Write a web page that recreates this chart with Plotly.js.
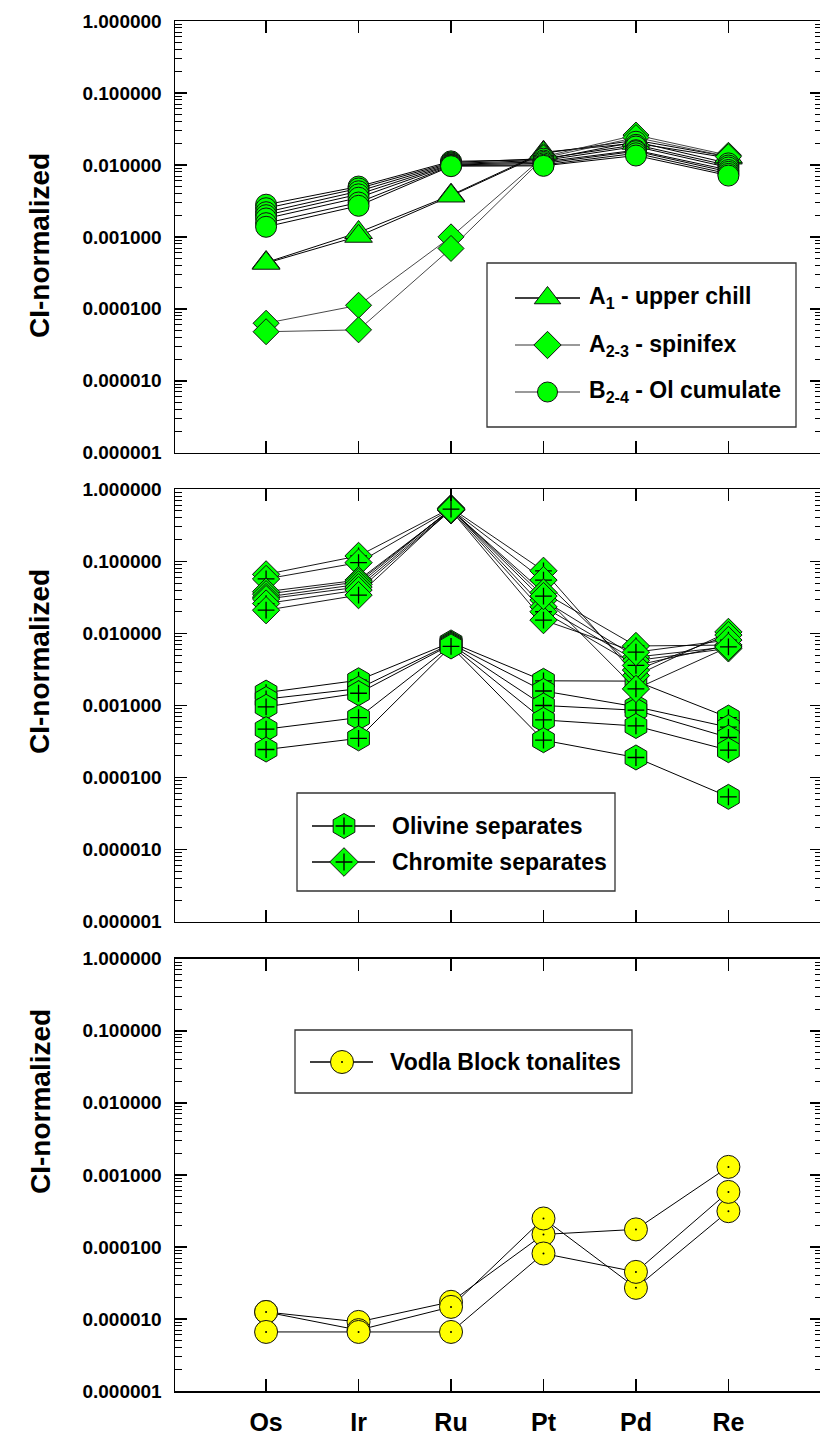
<!DOCTYPE html>
<html>
<head>
<meta charset="utf-8">
<script src="https://cdn.plot.ly/plotly-3.0.1.min.js"></script>
<style>
html,body{margin:0;padding:0;overflow:hidden;background:#fff;}
#chart{width:830px;height:1441px;}
</style>
</head>
<body>
<div id="chart"></div>
<script>
// ---------------- DATA ----------------
const elements = ['Os','Ir','Ru','Pt','Pd','Re'];
const yTickFormat = '.6f';

// Panel 1
const upperChillA1 = [
  [4.4e-4, 1.15e-3, 3.8e-3, 0.0150, 0.020, 0.0125],
  [4.3e-4, 1.02e-3, 3.7e-3, 0.0145, 0.022, 0.0130]
];
const spinifexA23 = [
  [6.3e-5, 1.12e-4, 1.0e-3, 0.0130, 0.026, 0.0136],
  [4.8e-5, 5.1e-5, 6.9e-4, 0.0125, 0.024, 0.0130]
];
const olCumulateB24 = [
  [2.8e-3, 5.0e-3, 0.0112, 0.0118, 0.021, 0.0105],
  [2.5e-3, 4.7e-3, 0.0108, 0.0122, 0.019, 0.0098],
  [2.2e-3, 4.3e-3, 0.0105, 0.0115, 0.018, 0.0092],
  [2.0e-3, 3.9e-3, 0.0102, 0.0110, 0.016, 0.0085],
  [1.8e-3, 3.5e-3, 0.0100, 0.0105, 0.0155, 0.0080],
  [1.55e-3, 3.0e-3, 0.0098, 0.0100, 0.0145, 0.0075],
  [1.38e-3, 2.7e-3, 0.0096, 0.0097, 0.0135, 0.0071]
];
// Panel 2
const olivineSeparates = [
  [1.51e-3, 2.24e-3, 7.5e-3, 2.2e-3, 2.18e-3, 6.8e-4],
  [1.23e-3, 1.71e-3, 7.2e-3, 1.59e-3, 9.6e-4, 5.0e-4],
  [9.6e-4, 1.48e-3, 7.0e-3, 1.0e-3, 8.6e-4, 3.6e-4],
  [4.7e-4, 6.8e-4, 6.8e-3, 6.3e-4, 5.2e-4, 2.4e-4],
  [2.45e-4, 3.5e-4, 6.6e-3, 3.3e-4, 1.9e-4, 5.4e-5]
];
const chromiteSeparates = [
  [0.066, 0.119, 0.55, 0.074, 0.0026, 0.0105],
  [0.057, 0.096, 0.53, 0.055, 0.0031, 0.0095],
  [0.038, 0.055, 0.52, 0.037, 0.0067, 0.0069],
  [0.035, 0.052, 0.53, 0.029, 0.0047, 0.0065],
  [0.032, 0.048, 0.54, 0.0234, 0.0042, 0.0062],
  [0.030, 0.044, 0.52, 0.020, 0.0036, 0.0069],
  [0.026, 0.040, 0.51, 0.0153, 0.0055, 0.0081],
  [0.021, 0.034, 0.53, 0.033, 0.0017, 0.0065]
];
// Panel 3
const vodlaTonalites = [
  [1.25e-5, 9.1e-6, 1.73e-5, 1.49e-4, 1.75e-4, 1.29e-3],
  [1.25e-5, 7.0e-6, 1.47e-5, 2.48e-4, 2.7e-5, 3.13e-4],
  [6.6e-6, 6.6e-6, 6.6e-6, 8.1e-5, 4.5e-5, 5.8e-4]
];

// ---------------- LAYOUT GEOMETRY ----------------
const W = 830, H = 1441, ML = 175, MR = 8, MT = 21, MB = 50;
const PW = W - ML - MR, PH = H - MT - MB;
const fx = px => (px - ML) / PW;
const fy = py => (H - MB - py) / PH;

const GREEN = '#00ff00', YELLOW = '#ffff00';
const FONT = 'Liberation Sans, Arial, Helvetica, sans-serif';

const traces = [];
function addLines(rows, xa, ya, color, width) {
  rows.forEach(r => traces.push({
    type: 'scatter', mode: 'lines', x: elements, y: r, xaxis: xa, yaxis: ya,
    line: {color: color, width: width}, hoverinfo: 'skip', showlegend: false
  }));
}
function addMarkers(rows, xa, ya, symbol, size, fill, extra) {
  rows.forEach(r => {
    traces.push({
      type: 'scatter', mode: 'markers', x: elements, y: r, xaxis: xa, yaxis: ya,
      marker: {symbol: symbol, size: size, color: fill, line: {color: '#111', width: 1}},
      hoverinfo: 'skip', showlegend: false
    });
    if (extra === 'cross') {
      traces.push({
        type: 'scatter', mode: 'markers', x: elements, y: r, xaxis: xa, yaxis: ya,
        marker: {symbol: 'cross-thin', size: 12, color: '#000', line: {color: '#000', width: 1.3}},
        hoverinfo: 'skip', showlegend: false
      });
    } else if (extra === 'dot') {
      traces.push({
        type: 'scatter', mode: 'markers', x: elements, y: r, xaxis: xa, yaxis: ya,
        marker: {symbol: 'circle', size: 2, color: '#000'},
        hoverinfo: 'skip', showlegend: false
      });
    }
  });
}

// Panel 1
addLines(upperChillA1, 'x', 'y', '#000', 1);
addLines(spinifexA23, 'x', 'y', '#333', 0.9);
addLines(olCumulateB24, 'x', 'y', '#000', 1);
addMarkers(upperChillA1, 'x', 'y', 'triangle-up', 24, GREEN);
addMarkers(spinifexA23, 'x', 'y', 'diamond', 20, GREEN);
addMarkers(olCumulateB24, 'x', 'y', 'circle', 21, GREEN);
// Panel 2
addLines(olivineSeparates, 'x2', 'y2', '#000', 1);
addLines(chromiteSeparates, 'x2', 'y2', '#000', 0.9);
addMarkers(olivineSeparates, 'x2', 'y2', 'hexagon', 25, GREEN, 'cross');
addMarkers(chromiteSeparates, 'x2', 'y2', 'diamond', 21, GREEN, 'cross');
// Panel 3
addLines(vodlaTonalites, 'x3', 'y3', '#000', 1);
addMarkers(vodlaTonalites, 'x3', 'y3', 'circle', 23, YELLOW, 'dot');

// ---------------- LEGENDS (drawn manually) ----------------
const legendBoxes = [
  {box: [487, 263, 796, 427], lineX: [515, 580], markX: 547.5, textX: 587,
   rows: [
     {y: 298, sym: 'triangle-up', size: 23, fill: GREEN, lc: '#000', text: 'A<sub>1</sub> - upper chill'},
     {y: 345, sym: 'diamond', size: 21, fill: GREEN, lc: '#777', text: 'A<sub>2-3</sub> - spinifex'},
     {y: 392, sym: 'circle', size: 20, fill: GREEN, lc: '#777', text: 'B<sub>2-4</sub> - Ol cumulate'}
   ]},
  {box: [297, 793, 615, 891], lineX: [312, 375], markX: 344, textX: 390,
   rows: [
     {y: 826, sym: 'hexagon', size: 25, fill: GREEN, lc: '#000', text: 'Olivine separates', extra: 'cross'},
     {y: 862, sym: 'diamond', size: 22, fill: GREEN, lc: '#000', text: 'Chromite separates', extra: 'cross'}
   ]},
  {box: [295, 1030, 632, 1093], lineX: [310, 373], markX: 342, textX: 388,
   rows: [
     {y: 1062, sym: 'circle', size: 23, fill: YELLOW, lc: '#000', text: 'Vodla Block tonalites', extra: 'dot'}
   ]}
];

const shapes = [];
const annotations = [];
legendBoxes.forEach(lg => {
  shapes.push({type: 'rect', xref: 'paper', yref: 'paper', layer: 'below',
    x0: fx(lg.box[0]), x1: fx(lg.box[2]), y0: fy(lg.box[3]), y1: fy(lg.box[1]),
    line: {color: '#333', width: 1.3}, fillcolor: 'rgba(0,0,0,0)'});
  lg.rows.forEach(r => {
    shapes.push({type: 'line', xref: 'paper', yref: 'paper', layer: 'below',
      x0: fx(lg.lineX[0]), x1: fx(lg.lineX[1]), y0: fy(r.y), y1: fy(r.y),
      line: {color: r.lc, width: 1.3}});
    traces.push({type: 'scatter', mode: 'markers', x: [fx(lg.markX)], y: [fy(r.y)],
      xaxis: 'x4', yaxis: 'y4', hoverinfo: 'skip', showlegend: false,
      marker: {symbol: r.sym, size: r.size, color: r.fill, line: {color: '#111', width: 1}}});
    if (r.extra === 'cross') {
      traces.push({type: 'scatter', mode: 'markers', x: [fx(lg.markX)], y: [fy(r.y)],
        xaxis: 'x4', yaxis: 'y4', hoverinfo: 'skip', showlegend: false,
        marker: {symbol: 'cross-thin', size: 12, color: '#000', line: {color: '#000', width: 1.3}}});
    } else if (r.extra === 'dot') {
      traces.push({type: 'scatter', mode: 'markers', x: [fx(lg.markX)], y: [fy(r.y)],
        xaxis: 'x4', yaxis: 'y4', hoverinfo: 'skip', showlegend: false,
        marker: {symbol: 'circle', size: 2, color: '#000'}});
    }
    annotations.push({xref: 'paper', yref: 'paper', x: fx(lg.textX), y: fy(r.y),
      xanchor: 'left', yanchor: 'middle', showarrow: false, text: r.text,
      font: {family: FONT, size: 23, color: '#000', weight: 'bold'}});
  });
});

// Y titles
const yTitleCenters = [246, 662, 1102];
yTitleCenters.forEach(cy => annotations.push({
  xref: 'paper', yref: 'paper', x: fx(40), y: fy(cy), xanchor: 'center', yanchor: 'middle',
  showarrow: false, textangle: -90, text: 'CI-normalized',
  font: {family: FONT, size: 28, color: '#000', weight: 'bold'}
}));

// ---------------- AXES ----------------
function xAxis(anchor, showLabels) {
  return {
    anchor: anchor, domain: [0, 1], type: 'category', range: [-0.985, 6.012],
    showline: true, linecolor: '#000', linewidth: 1.5, mirror: 'ticks',
    ticks: 'inside', ticklen: 12, tickwidth: 1.5, tickcolor: '#000',
    showgrid: false, zeroline: false, showticklabels: showLabels,
    tickfont: {family: FONT, size: 25, color: '#000', weight: 'bold'},
    ticklabelstandoff: 8, fixedrange: true
  };
}
function yAxis(anchor, domain) {
  return {
    anchor: anchor, domain: domain, type: 'log', range: [-6, 0],
    showline: true, linecolor: '#000', linewidth: 1.5, mirror: 'ticks',
    ticks: 'inside', ticklen: 12, tickwidth: 1.5, tickcolor: '#000',
    dtick: 1, tick0: 0, tickformat: yTickFormat,
    minor: {ticks: 'inside', ticklen: 7, tickwidth: 1, tickcolor: '#000', dtick: 'D1', showgrid: false},
    showgrid: false, zeroline: false,
    tickfont: {family: FONT, size: 19, color: '#000', weight: 'bold'},
    ticklabelstandoff: 8, fixedrange: true
  };
}

const layout = {
  width: W, height: H,
  margin: {l: ML, r: MR, t: MT, b: MB, pad: 0},
  paper_bgcolor: '#fff', plot_bgcolor: 'rgba(0,0,0,0)',
  showlegend: false,
  xaxis: xAxis('y', false),
  xaxis2: xAxis('y2', false),
  xaxis3: xAxis('y3', true),
  yaxis: yAxis('x', [fy(452.7), 1]),
  yaxis2: yAxis('x2', [fy(921.7), fy(489.3)]),
  yaxis3: yAxis('x3', [0, fy(958.7)]),
  xaxis4: {anchor: 'y4', domain: [0, 1], range: [0, 1], visible: false, fixedrange: true},
  yaxis4: {anchor: 'x4', domain: [0, 1], range: [0, 1], visible: false, fixedrange: true},
  shapes: shapes,
  annotations: annotations
};

Plotly.newPlot('chart', traces, layout, {staticPlot: true, displayModeBar: false});
</script>
</body>
</html>
